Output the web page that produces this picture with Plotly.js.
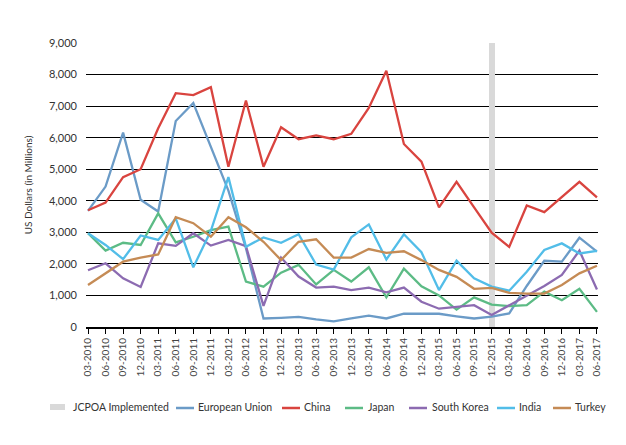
<!DOCTYPE html>
<html>
<head>
<meta charset="utf-8">
<script src="https://cdn.plot.ly/plotly-3.0.1.min.js"></script>
<style>html,body{margin:0;padding:0;background:#fff;}#chart{width:626px;height:445px;}</style>
</head>
<body>
<div id="chart"></div>
<script>
const quarters = ["03-2010","06-2010","09-2010","12-2010","03-2011","06-2011","09-2011","12-2011","03-2012","06-2012","09-2012","12-2012","03-2013","06-2013","09-2013","12-2013","03-2014","06-2014","09-2014","12-2014","03-2015","06-2015","09-2015","12-2015","03-2016","06-2016","09-2016","12-2016","03-2017","06-2017"];
const jcpoaQuarter = ["12-2015"];
const jcpoaValue = [9000];
const europeanUnion = [3680,4450,6160,4030,3660,6530,7100,5720,4320,2500,270,290,320,240,180,270,360,270,420,420,420,340,270,330,430,1300,2100,2070,2830,2390];
const china = [3700,3940,4750,5000,6300,7410,7350,7600,5080,7180,5080,6330,5950,6070,5950,6120,6940,8120,5800,5240,3790,4600,3790,2990,2540,3850,3640,4130,4600,4110];
const japan = [2970,2420,2670,2600,3600,2680,2860,3070,3180,1440,1280,1720,1970,1350,1810,1440,1890,940,1850,1290,1000,550,940,710,660,690,1120,850,1210,480];
const southKorea = [1800,2020,1540,1270,2650,2570,2970,2580,2760,2560,670,2200,1600,1250,1280,1170,1250,1100,1250,800,580,640,690,380,690,980,1300,1650,2420,1190];
const india = [2970,2600,2150,2900,2760,3440,1890,3050,4750,2540,2840,2670,2940,1980,1820,2840,3250,2140,2940,2370,1170,2100,1540,1280,1150,1750,2440,2650,2330,2410];
const turkey = [1330,1700,2070,2200,2300,3480,3290,2860,3480,3160,2700,2120,2700,2780,2200,2200,2470,2350,2400,2120,1810,1590,1210,1240,1080,1060,1060,1330,1700,1940];

const seriesNames = ["European Union","China","Japan","South Korea","India","Turkey"];
const seriesValues = [europeanUnion, china, japan, southKorea, india, turkey];
const seriesColors = ['#6b9bc7','#d9443f','#5cbb85','#8c6bb1','#52bde8','#c58b55'];
const jcpoaName = "JCPOA Implemented";
const jcpoaColor = '#d9d9d9';

const W = 626, H = 445, ML = 86, MR = 28, MT = 43, MB = 118;
const PW = W - ML - MR, PH = H - MT - MB;
const px2x = p => (p - ML) / PW;
const px2y = p => (H - MB - p) / PH;

const lw = 2.3;
const traces = [
  {type:'bar', name:jcpoaName, x:jcpoaQuarter, y:jcpoaValue, width:0.34, marker:{color:jcpoaColor, line:{width:0}}, hoverinfo:'skip', showlegend:false}
];
seriesNames.forEach((n, i) => traces.push({type:'scatter', mode:'lines', name:n, x:quarters, y:seriesValues[i], line:{color:seriesColors[i], width:lw}, showlegend:false}));

// legend built as shapes + text (layout positions in px)
const legendY = 407;
const legendSymbolStart = [176, 282, 345, 409, 497, 553];
const legendTextStart = [196, 302, 366, 430, 517, 573];
const legendFont = {size:10.5, color:'#333'};
const shapes = [
  {type:'rect', xref:'paper', yref:'paper', x0:px2x(50), x1:px2x(65), y0:px2y(410), y1:px2y(404), fillcolor:jcpoaColor, line:{width:0}}
];
const annotations = [
  {xref:'paper', yref:'paper', x:px2x(71), y:px2y(legendY), xanchor:'left', yanchor:'middle', text:jcpoaName, showarrow:false, font:legendFont}
];
seriesNames.forEach((n, i) => {
  shapes.push({type:'line', xref:'paper', yref:'paper', x0:px2x(legendSymbolStart[i]), x1:px2x(legendSymbolStart[i] + 18), y0:px2y(legendY + 1), y1:px2y(legendY + 1), line:{color:seriesColors[i], width:2.5}});
  annotations.push({xref:'paper', yref:'paper', x:px2x(legendTextStart[i]), y:px2y(legendY), xanchor:'left', yanchor:'middle', text:n, showarrow:false, font:legendFont});
});

const fontFam = 'Lato, "Open Sans", sans-serif';
const layout = {
  width:W, height:H,
  margin:{l:ML, r:MR, t:MT, b:MB, pad:0},
  paper_bgcolor:'#fff', plot_bgcolor:'#fff',
  font:{family:fontFam, size:11, color:'#333'},
  showlegend:false,
  shapes:shapes, annotations:annotations,
  xaxis:{type:'category', categoryorder:'array', categoryarray:quarters, range:[-0.114, 29.06], automargin:false,
    showgrid:false, showline:true, linecolor:'#000', linewidth:2, ticks:'outside', ticklen:5, tickcolor:'#000', tickwidth:1,
    tickangle:-90, tickfont:{size:10, color:'#444'}, zeroline:false, fixedrange:true},
  yaxis:{range:[0,9000], dtick:1000, tickformat:',', showgrid:true, gridcolor:'#000', gridwidth:1, zeroline:false, showline:false, automargin:false,
    tickfont:{size:11, color:'#333'}, ticklabelstandoff:8,
    title:{text:'US Dollars (in Millions)', font:{size:10, color:'#333'}, standoff:14}},
  bargap:0
};
Plotly.newPlot('chart', traces, layout, {displayModeBar:false, staticPlot:true});
</script>
</body>
</html>
